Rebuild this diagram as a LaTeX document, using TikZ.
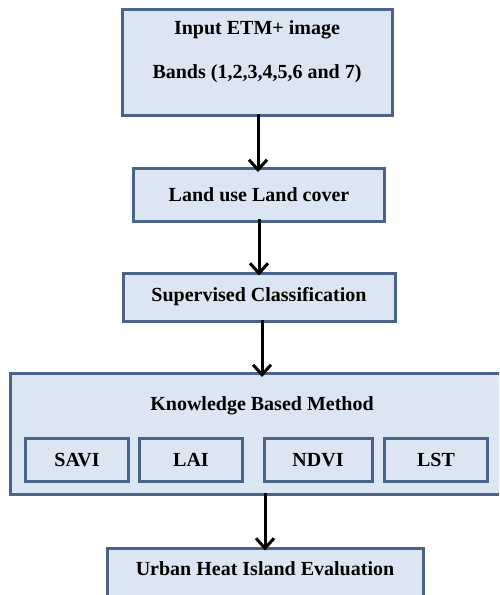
\documentclass[tikz,border=0pt]{standalone}
\usepackage{fontspec}
\setmainfont{Liberation Serif}
\usetikzlibrary{arrows.meta}
\definecolor{boxfill}{HTML}{DCE6F2}
\definecolor{boxline}{HTML}{4A6489}
\tikzstyle{stage}=[rectangle, draw=boxline, fill=boxfill, line width=3pt, inner sep=0pt]
\tikzstyle{caption}=[inner sep=0pt, font=\bfseries\fontsize{20}{24}\selectfont]
\tikzstyle{flow}=[-{Straight Barb[length=10pt,width=18pt,line width=3pt]}, line width=3pt, black]
\newcommand{\stage}{\node[stage]}

\begin{document}
\begin{tikzpicture}[x=1pt, y=-1pt]
\useasboundingbox (0,0) rectangle (499,595);
\clip (0,0) rectangle (499,595);
\fill[white] (0,0) rectangle (499,595);
% boxes
\stage[minimum width=270, minimum height=106] (input) at (257,62) {};
\node[caption] (inputA) at (257,30) {Input ETM+ image};
\node[caption] (inputB) at (257,74) {Bands (1,2,3,4,5,6 and 7)};
\stage[minimum width=251, minimum height=53] (lulc) at (259,195) [caption] {Land use Land cover};
\stage[minimum width=272, minimum height=48] (super) at (259,297) [caption] {Supervised Classification};
\stage[minimum width=500, minimum height=121] (kbm) at (260,434) {};
\node[caption] (kbmT) at (262,406) {Knowledge Based Method};
\stage[minimum width=103, minimum height=43] (savi) at (77,460) [caption] {SAVI};
\stage[minimum width=103, minimum height=43] (lai) at (191,460) [caption] {LAI};
\stage[minimum width=108, minimum height=43] (ndvi) at (318,460) [caption] {NDVI};
\stage[minimum width=103, minimum height=43] (lst) at (436,460) [caption] {LST};
\stage[minimum width=316, minimum height=70] (uhi) at (265,583) {};
\node[caption] (uhiT) at (265,569) {Urban Heat Island Evaluation};
% arrows
\draw[flow] ([xshift=1pt,yshift=3pt]input.south) -- ([xshift=1pt,yshift=-5pt]input.south |- lulc.north);
\draw[flow] ([yshift=4pt]lulc.south) -- ([yshift=-4pt]super.north);
\draw[flow] ([xshift=3pt,yshift=3pt]super.south) -- ([xshift=3pt,yshift=-5pt]super.south |- kbm.north);
\draw[flow] ([yshift=3pt]kbm.south -| uhi.north) -- ([yshift=-4pt]uhi.north);
\end{tikzpicture}
\end{document}
